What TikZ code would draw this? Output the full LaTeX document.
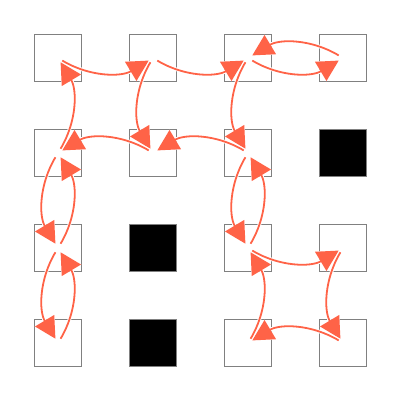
\documentclass[tikz,border=0pt]{standalone}
\usetikzlibrary{arrows.meta}
\definecolor{arrowc}{HTML}{FF6347}
\definecolor{cellline}{HTML}{808080}
\begin{document}
\begin{tikzpicture}[x=1pt,y=1pt,
  cell/.style={draw=cellline, line width=0.9pt, minimum size=47.4pt, inner sep=0pt, outer sep=0pt},
  wall/.style={cell, fill=black},
  move/.style={draw=arrowc, line width=1.8pt,
    -{Triangle[length=21pt,width=22pt]},
    shorten <=5pt, shorten >=5pt, bend right=31,
    preaction={draw=white, line width=3.6pt, -{Triangle[length=21pt,width=22pt]}, shorten <=5pt, shorten >=5pt}}
]
\useasboundingbox (0,0) rectangle (401,401);
\fill[white] (0,0) rectangle (401,401);
\foreach \c/\r in {0/0,1/0,2/0,3/0,0/1,1/1,2/1,0/2,2/2,3/2,0/3,2/3,3/3}
  \node[cell] (c\c\r) at ({58+95*\c},{343-95*\r}) {};
\foreach \c/\r in {3/1,1/2,1/3}
  \node[wall] (c\c\r) at ({58+95*\c},{343-95*\r}) {};
\foreach \a/\b in {00/10,10/20,20/30,30/20,20/21,10/11,11/01,21/11,01/00,01/02,02/01,02/03,03/02,21/22,22/21,22/32,32/33,33/23,23/22}
  \draw[move] (c\a.center) to (c\b.center);
\end{tikzpicture}
\end{document}
